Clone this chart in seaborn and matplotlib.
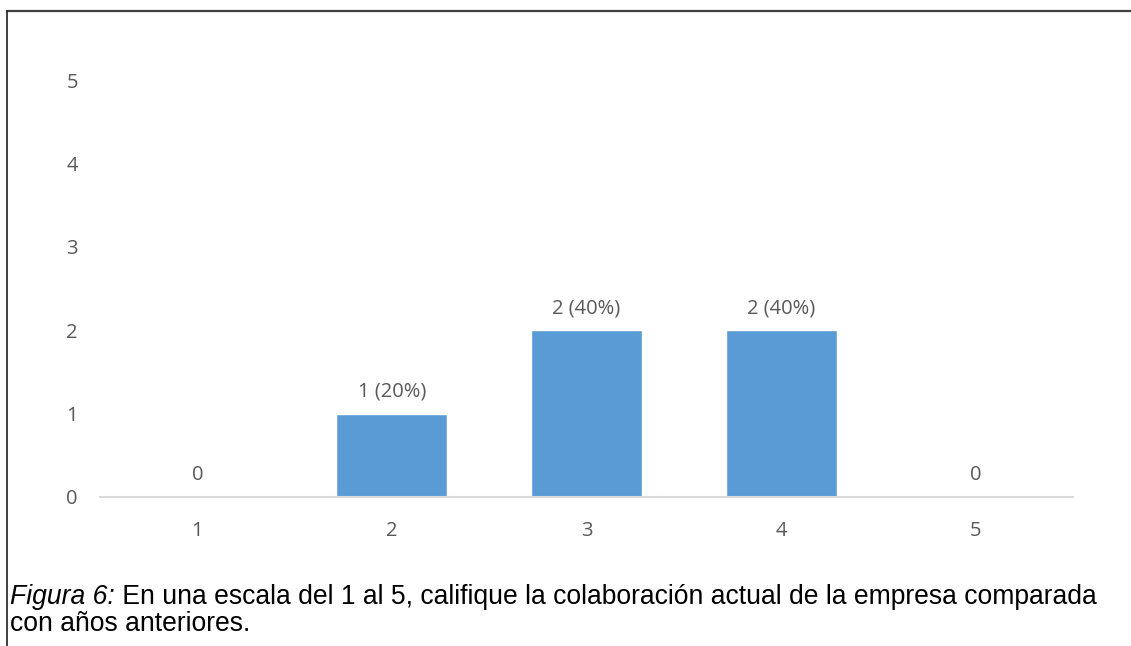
import matplotlib
matplotlib.use("Agg")
import matplotlib.pyplot as plt
from matplotlib.lines import Line2D
import seaborn as sns
import pandas as pd

# Survey answers on a 1-5 scale
categories = ["1", "2", "3", "4", "5"]
counts = [0, 1, 2, 2, 0]
percents = [0, 20, 40, 40, 0]
y_ticks = [0, 1, 2, 3, 4, 5]

caption_italic = "Figura 6:"
caption_rest = " En una escala del 1 al 5, califique la colaboración actual de la empresa comparada"
caption_line2 = "con años anteriores."

BAR = "#5B9BD5"
GREY = "#595959"
AXIS = "#D9D9D9"
FS = 14.5

sns.set_theme(style="white")
plt.rcParams["font.family"] = ["Open Sans", "DejaVu Sans"]

df = pd.DataFrame({"cat": categories, "n": counts})

fig = plt.figure(figsize=(11.31, 6.46), dpi=100)
ax = fig.add_axes([100 / 1131, 1 - 497 / 646, 973 / 1131, 417 / 646])

sns.barplot(data=df, x="cat", y="n", order=categories, color=BAR,
            width=0.57, saturation=1, ax=ax)

ax.set_xlim(-0.5, len(categories) - 0.5)
ax.set_ylim(0, 5)
ax.set_yticks(y_ticks)
ax.set_xlabel("")
ax.set_ylabel("")
for s in ["top", "right", "left"]:
    ax.spines[s].set_visible(False)
ax.spines["bottom"].set_color(AXIS)
ax.spines["bottom"].set_linewidth(1.5)
ax.tick_params(axis="both", length=0, labelsize=FS, colors=GREY)
ax.tick_params(axis="x", pad=17.5)
ax.tick_params(axis="y", pad=16)

for i, (n, p) in enumerate(zip(counts, percents)):
    label = f"{n} ({p}%)" if n else f"{n}"
    ax.annotate(label, (i, n), xytext=(0, 12), textcoords="offset points",
                ha="center", va="baseline", fontsize=FS, color=GREY)

# Frame: top edge and left edge
fig.add_artist(Line2D([6.5 / 1131, 1], [1 - 10.5 / 646] * 2, color="#404040", lw=1.6,
                      transform=fig.transFigure))
fig.add_artist(Line2D([6.5 / 1131] * 2, [0, 1 - 10.5 / 646], color="#202020", lw=1.2,
                      transform=fig.transFigure))

# Caption with italic lead-in
cap_kw = dict(fontsize=19.1, color="black", family=["Liberation Sans", "DejaVu Sans"])
t1 = fig.text(10 / 1131, 1 - 604 / 646, caption_italic, style="italic", va="baseline", **cap_kw)
fig.canvas.draw()
bb = t1.get_window_extent()
fig.text(bb.x1 / fig.bbox.width, 1 - 604 / 646, caption_rest, va="baseline", **cap_kw)
fig.text(10 / 1131, 1 - 631 / 646, caption_line2, va="baseline", **cap_kw)

fig.savefig("out.png", dpi=100)
